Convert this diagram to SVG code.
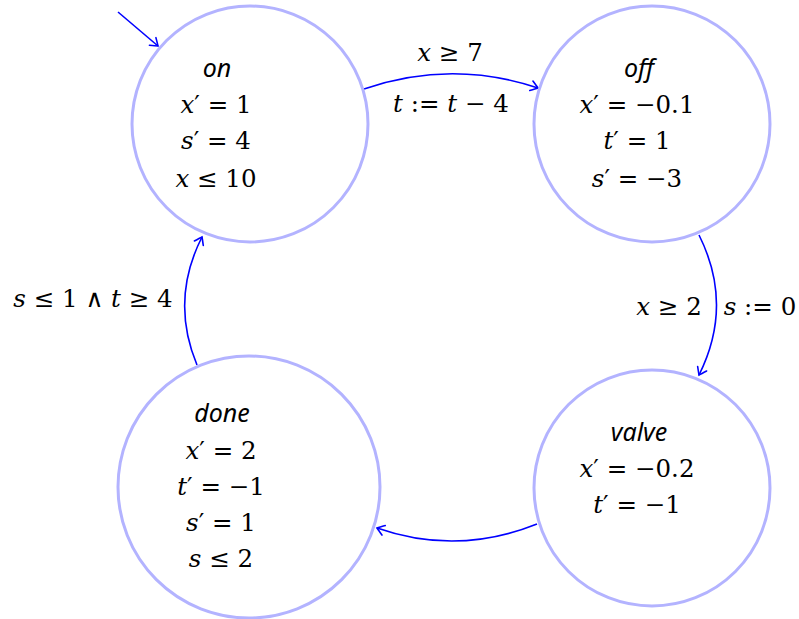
<svg xmlns="http://www.w3.org/2000/svg" width="799" height="619" viewBox="0 0 799 619">
<style>
.state{fill:#fff;stroke:#b3b3ff;stroke-width:3}
.edge{fill:none;stroke:#0000ff;stroke-width:1.6}
.v{font-style:italic}
.m{font-family:'DejaVu Serif','Liberation Serif',serif;font-size:24.5px;text-anchor:middle;fill:#000}
.name{font-family:'Noto Sans','DejaVu Sans',sans-serif;font-style:italic;font-size:25px;text-anchor:middle;fill:#000}
</style>
<defs>
<marker id="arr" viewBox="-10 -7 12 14" markerWidth="12" markerHeight="14" refX="0" refY="0" orient="auto" markerUnits="userSpaceOnUse" overflow="visible">
<path d="M-7,-5 Q-2,-1.5 0,0 Q-2,1.5 -7,5" fill="none" stroke="#0000ff" stroke-width="1.6" stroke-linecap="round"/>
</marker>
</defs>
<g id="connectors">
<path class="edge" d="M118,12 L158,46" marker-end="url(#arr)"/>
<path class="edge" d="M364,89 Q451,59 538,88" marker-end="url(#arr)"/>
<path class="edge" d="M699,235 Q734,305 699,375" marker-end="url(#arr)"/>
<path class="edge" d="M537,524 Q457,556 377,528" marker-end="url(#arr)"/>
<path class="edge" d="M197,365 Q170,300 202,237" marker-end="url(#arr)"/>
<text class="m" x="450" y="61"><tspan class="v">x</tspan> ≥ 7</text>
<text class="m" x="451" y="112"><tspan class="v">t</tspan> := <tspan class="v">t</tspan> − 4</text>
<text class="m" x="669" y="315"><tspan class="v">x</tspan> ≥ 2</text>
<text class="m" x="760" y="315"><tspan class="v">s</tspan> := 0</text>
<text class="m" x="93" y="307"><tspan class="v">s</tspan> ≤ 1 ∧ <tspan class="v">t</tspan> ≥ 4</text>
</g>
<g id="on">
<circle class="state" cx="250" cy="124" r="118"/>
<text class="name" x="217" y="77">on</text>
<text class="m" x="216" y="113"><tspan class="v">x</tspan>′ = 1</text>
<text class="m" x="216" y="149"><tspan class="v">s</tspan>′ = 4</text>
<text class="m" x="216" y="187"><tspan class="v">x</tspan> ≤ 10</text>
</g>
<g id="off">
<circle class="state" cx="652" cy="124" r="118"/>
<text class="name" x="639" y="77">off</text>
<text class="m" x="637" y="113"><tspan class="v">x</tspan>′ = −0.1</text>
<text class="m" x="637" y="149"><tspan class="v">t</tspan>′ = 1</text>
<text class="m" x="637" y="187"><tspan class="v">s</tspan>′ = −3</text>
</g>
<g id="valve">
<circle class="state" cx="652" cy="488" r="118"/>
<text class="name" x="639" y="441">valve</text>
<text class="m" x="637" y="477"><tspan class="v">x</tspan>′ = −0.2</text>
<text class="m" x="637" y="513"><tspan class="v">t</tspan>′ = −1</text>
</g>
<g id="done">
<circle class="state" cx="249" cy="487" r="131"/>
<text class="name" x="222" y="422">done</text>
<text class="m" x="221" y="459"><tspan class="v">x</tspan>′ = 2</text>
<text class="m" x="221" y="495"><tspan class="v">t</tspan>′ = −1</text>
<text class="m" x="221" y="531"><tspan class="v">s</tspan>′ = 1</text>
<text class="m" x="221" y="567"><tspan class="v">s</tspan> ≤ 2</text>
</g>
</svg>
